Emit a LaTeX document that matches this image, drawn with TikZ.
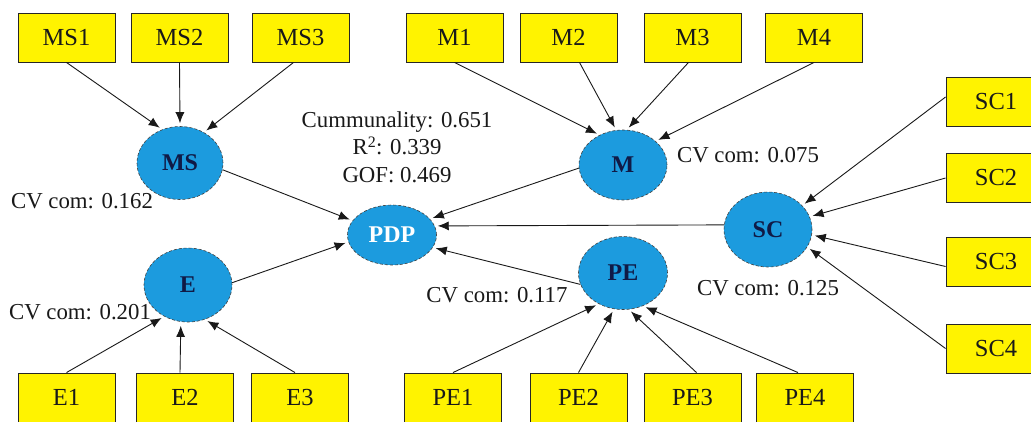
\documentclass[tikz,border=0pt]{standalone}
\usepackage{fontspec}
\setmainfont{Liberation Serif}
\usetikzlibrary{arrows.meta,shapes.geometric}
\definecolor{boxyellow}{RGB}{255,243,0}
\definecolor{latblue}{RGB}{28,155,222}
\definecolor{latnavy}{RGB}{16,26,70}
\begin{document}
\begin{tikzpicture}[x=1pt,y=-1pt,
  ind/.style={draw=black!85, fill=boxyellow, line width=0.9pt, minimum width=97pt,
    minimum height=49pt, inner sep=0pt, font=\fontsize{24.5}{27}\selectfont, text=black!90},
  lat/.style={ellipse, draw=black!75, densely dashed, line width=0.6pt, fill=latblue,
    minimum width=88pt, minimum height=73pt, inner sep=0pt,
    font=\fontsize{24}{26}\selectfont\bfseries, text=latnavy},
  note/.style={font=\fontsize{22.8}{27.5}\selectfont, text=black!90, inner sep=0pt, align=center},
  arr/.style={-{Latex[length=11pt,width=9pt]}, line width=0.9pt, draw=black!90, shorten >=3pt}
]
\clip (0,0) rectangle (1031,421);
\fill[white] (0,0) rectangle (1031,421);

% indicator boxes, top row
\node[ind] (MS1) at (66.5,37.5) {MS1};
\node[ind] (MS2) at (179.5,37.5) {MS2};
\node[ind] (MS3) at (300.5,37.5) {MS3};
\node[ind] (M1) at (454.5,37.5) {M1};
\node[ind] (M2) at (568.5,37.5) {M2};
\node[ind] (M3) at (692.5,37.5) {M3};
\node[ind] (M4) at (814,37.5) {M4};
% bottom row
\node[ind] (E1) at (66.5,397.5) {E1};
\node[ind] (E2) at (185,397.5) {E2};
\node[ind] (E3) at (300,397.5) {E3};
\node[ind] (PE1) at (453,397.5) {PE1};
\node[ind] (PE2) at (578.5,397.5) {PE2};
\node[ind] (PE3) at (692.5,397.5) {PE3};
\node[ind] (PE4) at (805,397.5) {PE4};
% right column
\node[ind, minimum width=100pt] (SC1) at (996,102) {SC1};
\node[ind, minimum width=100pt] (SC2) at (996,178) {SC2};
\node[ind, minimum width=100pt] (SC3) at (996,261.5) {SC3};
\node[ind, minimum width=100pt] (SC4) at (996,348.5) {SC4};

% latent variables
\node[lat, minimum width=86pt] (MS) at (180,163) {MS};
\node[lat, minimum height=74pt] (E) at (188,285) {E};
\node[lat, minimum width=89pt, minimum height=60pt, text=white] (PDP) at (392,235) {PDP};
\node[lat, minimum height=70pt] (M) at (623,165) {M};
\node[lat, minimum height=75pt] (SC) at (768,229.5) {SC};
\node[lat, minimum width=89pt] (PE) at (623,273) {PE};

% annotations
\node[note] (stats) at (397,147) {Cummunality: 0.651\\R\textsuperscript{2}: 0.339\\GOF: 0.469};
\node[note] (cvMS) at (82,201) {CV com: 0.162};
\node[note] (cvE) at (80,312) {CV com: 0.201};
\node[note] (cvM) at (748,155) {CV com: 0.075};
\node[note] (cvSC) at (768,288) {CV com: 0.125};
\node[note] (cvPE) at (497,295) {CV com: 0.117};

% indicator arrows
\draw[arr] (MS1.south) -- (MS.118);
\draw[arr] (MS2.south) -- (MS.90);
\draw[arr] ([xshift=-7pt]MS3.south) -- (MS.52);
\draw[arr] (M1.south) -- (M.128);
\draw[arr] ([xshift=11pt]M2.south) -- (M.101);
\draw[arr] ([xshift=-4pt]M3.south) -- (M.84);
\draw[arr] (M4.south) -- (M.36);
\draw[arr] (E1.north) -- (E.-127);
\draw[arr, shorten >=4pt] ([xshift=-5pt]E2.north) -- (E.-101);
\draw[arr] ([xshift=-5pt]E3.north) -- (E.-64);
\draw[arr] (PE1.north) -- (PE.-128);
\draw[arr] (PE2.north) -- (PE.-104);
\draw[arr] ([xshift=4pt]PE3.north) -- (PE.-81);
\draw[arr] ([xshift=-7pt]PE4.north) -- (PE.-59);
\draw[arr] ([yshift=5pt]SC1.west) -- (SC.35);
\draw[arr] (SC2.west) -- (SC.17);
\draw[arr] ([yshift=-5pt]SC3.west) -- (SC.-7);
\draw[arr] (SC4.west) -- (SC.-24);

% structural arrows
\draw[arr] (MS.-9) -- (PDP.160);
\draw[arr] (E.3) -- (PDP.-171);
\draw[arr] (M.184) -- (PDP.23);
\draw[arr] (SC.174) -- (PDP.12);
\draw[arr] (PE.195) -- (PDP.-17);
\end{tikzpicture}
\end{document}
